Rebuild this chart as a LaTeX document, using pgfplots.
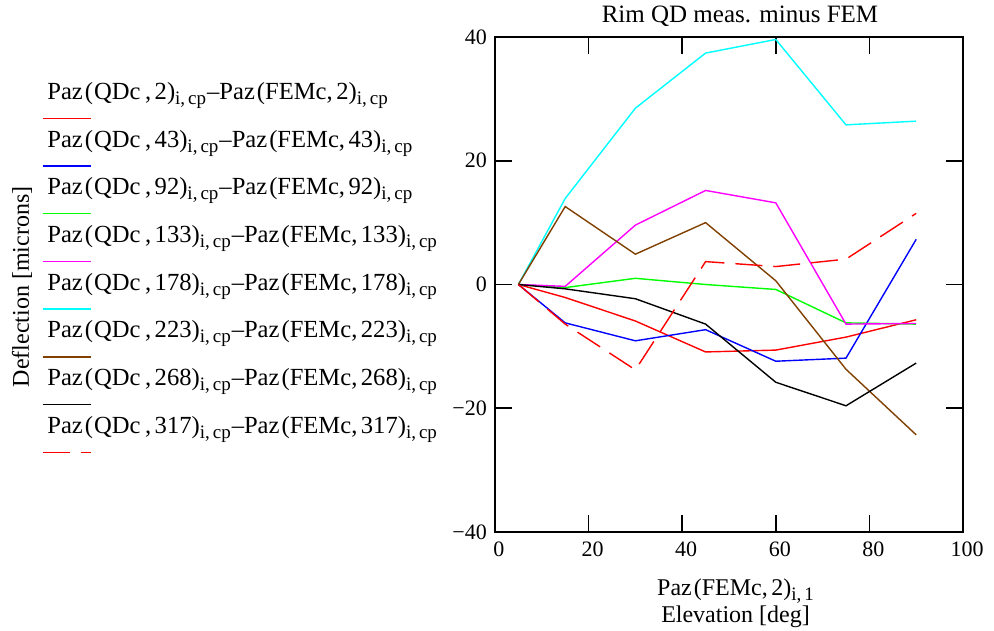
\documentclass[border=0pt]{standalone}
\usepackage{pgfplots}
\pgfplotsset{compat=1.18}
\usepackage{fontspec}
\setmainfont{Liberation Serif}
\definecolor{mcbrown}{RGB}{128,64,0}
\definecolor{mcred}{RGB}{255,0,0}
\definecolor{mcblue}{RGB}{0,0,255}
\definecolor{mcgreen}{RGB}{0,255,0}
\definecolor{mcmagenta}{RGB}{255,0,255}
\definecolor{mccyan}{RGB}{0,255,255}
\newcommand\sub[1]{\raisebox{-5pt}{\fontsize{19}{20}\selectfont #1}}
\newcommand\fs{\fontsize{24}{27}\selectfont}
\newcommand\lgent[1]{Paz\kern2pt(\kern1pt QDc\kern4.5pt,\kern3.5pt#1)\sub{i,\kern3pt cp}\kern1pt–Paz\kern2pt(FEMc,\kern3.5pt#1)\sub{i,\kern3pt cp}}
\begin{document}
\begin{tikzpicture}
\path[use as bounding box] (0,0) rectangle (994pt,630pt);
\begin{axis}[
  at={(495pt,98pt)}, anchor=south west,
  scale only axis, width=468pt, height=495pt,
  xmin=0, xmax=100, ymin=-40, ymax=40,
  xtick={0,20,40,60,80,100}, ytick={-40,-20,0,20,40},
  xticklabels={0,20,40,60,80,100},
  yticklabels={−40,−20,0,20,40},
  tick align=inside, major tick length=17pt,
  axis line style={line width=1.6pt},
  every tick/.style={black, line width=1.6pt},
  ticklabel style={font=\fontsize{22}{26}\selectfont, inner sep=0pt},
  yticklabel style={xshift=-8pt},
  xticklabel style={yshift=-9.7pt, xshift=4pt},
  title={Rim QD meas. minus FEM},
  title style={at={(axis description cs:0.5235,1.0162)}, anchor=base, font=\fontsize{25}{27}\selectfont, inner sep=0pt},
  xlabel={Paz\kern2pt(FEMc,\kern3.5pt2)\sub{i,\kern3pt1}\\Elevation [deg]},
  xlabel style={align=center, at={(axis description cs:0.514,-0.0949)}, anchor=north, inner sep=0pt, font=\fs},
  ylabel={Deflection [microns]},
  ylabel style={at={(axis description cs:-1.0107,0.495)}, anchor=center, inner sep=0pt, font=\fs},
  legend cell align=left,
  legend style={at={(axis description cs:-0.9594,0.9085)}, anchor=north west, draw=none, fill=none,
    inner sep=0pt, outer sep=0pt, row sep=23.7pt, font=\fontsize{24.6}{27}\selectfont, cells={anchor=base west},
    nodes={inner sep=0pt, text height=17pt, text depth=7pt}},
  legend image code/.code={\path (0pt,0pt); \draw[#1, overlay] (-4pt,-19pt) -- (44.7pt,-19pt);},
]
\addplot[mcred, line width=1.4pt] coordinates {(5,0)(15,-2.1)(30,-5.9)(45,-10.9)(60,-10.6)(75,-8.5)(90,-5.7)};
\addlegendentry{\lgent{2}}
\addplot[mcblue, line width=1.4pt] coordinates {(5,0)(15,-6.2)(30,-9.1)(45,-7.3)(60,-12.4)(75,-11.9)(90,7.3)};
\addlegendentry{\lgent{43}}
\addplot[mcgreen, line width=1.4pt] coordinates {(5,0)(15,-0.5)(30,1.0)(45,0)(60,-0.8)(75,-6.2)(90,-6.4)};
\addlegendentry{\lgent{92}}
\addplot[mcmagenta, line width=1.4pt] coordinates {(5,0)(15,-0.3)(30,9.6)(45,15.2)(60,13.2)(75,-6.4)(90,-6.3)};
\addlegendentry{\lgent{133}}
\addplot[mccyan, line width=1.4pt] coordinates {(5,0)(15,13.9)(30,28.5)(45,37.4)(60,39.6)(75,25.8)(90,26.4)};
\addlegendentry{\lgent{178}}
\addplot[mcbrown, line width=1.4pt] coordinates {(5,0)(15,12.6)(30,4.9)(45,10.0)(60,0.6)(75,-13.7)(90,-24.3)};
\addlegendentry{\lgent{223}}
\addplot[black, line width=1.4pt] coordinates {(5,0)(15,-0.7)(30,-2.3)(45,-6.4)(60,-15.8)(75,-19.6)(90,-12.7)};
\addlegendentry{\lgent{268}}
\addplot[mcred, line width=1.4pt, dash pattern=on 27pt off 11pt] coordinates {(5,0)(15,-6.4)(30,-13.8)(45,3.7)(60,2.9)(75,4.1)(90,11.5)};
\addlegendentry{\lgent{317}}
\end{axis}
\end{tikzpicture}
\end{document}
